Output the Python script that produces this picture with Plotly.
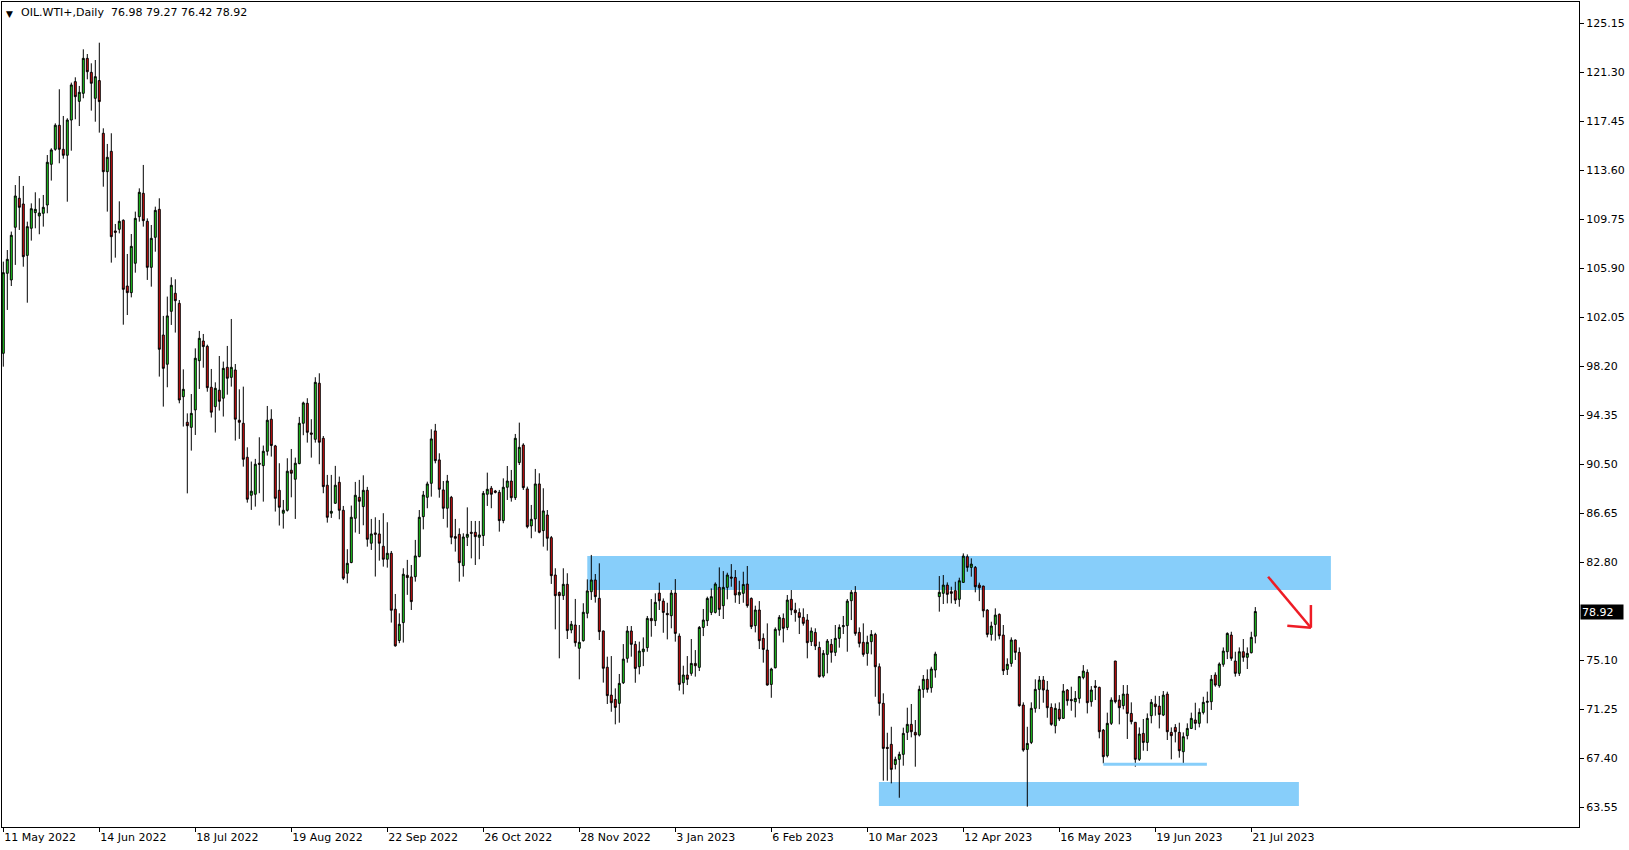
import plotly.graph_objects as go

# ---------------- data ----------------
OPEN = [99.22, 105.51, 104.99, 109.13, 111.41, 110.96, 106.92, 109.05, 110.28, 110.02,
        110.23, 110.88, 114.08, 115.26, 117.15, 115.26, 114.79, 117.56, 120.58, 119.03,
        119.66, 122.41, 121.31, 119.27, 120.66, 116.52, 113.50, 115.10, 108.84, 108.97,
        109.68, 104.51, 103.99, 106.30, 109.96, 111.80, 109.60, 105.98, 108.34, 110.54,
        100.66, 98.36, 102.52, 103.94, 103.15, 95.81, 93.80, 93.40, 94.77, 98.64,
        100.19, 99.77, 96.55, 95.03, 96.32, 95.69, 98.12, 97.33, 97.91, 93.96,
        93.72, 91.05, 88.06, 88.14, 90.58, 90.39, 91.52, 94.04, 91.94, 88.45,
        86.65, 86.88, 90.03, 89.32, 90.55, 93.72, 95.29, 92.96, 92.46, 96.87,
        92.54, 88.85, 86.65, 87.43, 89.08, 86.88, 81.93, 82.77, 86.25, 87.90,
        87.17, 88.45, 84.29, 85.10, 85.02, 84.05, 83.03, 83.50, 79.10, 76.64,
        78.05, 81.77, 81.64, 81.66, 83.24, 86.38, 87.90, 89.00, 93.12, 90.84,
        88.48, 87.04, 87.90, 84.81, 84.99, 82.53, 84.76, 85.15, 85.15, 84.76,
        84.89, 88.14, 88.61, 88.40, 88.29, 86.07, 88.69, 89.18, 87.87, 90.63,
        92.01, 88.56, 85.65, 86.20, 88.95, 85.28, 86.51, 84.73, 81.79, 80.41,
        80.17, 81.06, 77.47, 77.86, 76.03, 76.63, 78.78, 80.48, 81.40, 79.96,
        77.39, 74.54, 72.35, 72.01, 71.70, 73.32, 75.24, 77.39, 76.34, 74.58,
        75.76, 76.08, 78.38, 78.20, 80.37, 79.74, 78.77, 78.59, 80.37, 76.99,
        73.32, 73.93, 74.06, 74.84, 74.53, 77.67, 78.20, 78.85, 78.85, 80.82,
        79.38, 80.82, 81.63, 81.60, 80.22, 80.35, 81.08, 79.95, 77.81, 79.04,
        76.81, 75.89, 73.19, 74.50, 77.46, 78.38, 77.67, 79.88, 79.04, 78.83,
        78.46, 78.25, 76.55, 77.28, 76.10, 73.85, 75.55, 76.34, 75.71, 76.81,
        77.73, 77.81, 79.77, 80.43, 77.28, 76.50, 75.63, 76.55, 77.12, 74.58,
        71.70, 68.24, 68.48, 66.90, 67.30, 67.69, 69.42, 70.05, 69.42, 69.21,
        72.80, 73.59, 72.93, 74.32, 80.09, 80.35, 81.00, 80.48, 80.56, 79.88,
        81.21, 83.23, 82.39, 82.39, 81.00, 80.92, 79.04, 77.12, 77.91, 78.70,
        77.07, 74.37, 74.84, 76.68, 75.71, 71.57, 68.08, 68.63, 71.31, 72.80,
        73.53, 72.75, 71.38, 69.94, 71.23, 70.52, 72.75, 72.01, 71.83, 72.09,
        73.74, 74.14, 71.83, 73.06, 72.96, 69.60, 67.58, 70.13, 75.03, 71.96,
        71.52, 72.43, 70.91, 70.21, 67.30, 69.34, 68.63, 70.73, 71.65, 71.49,
        70.78, 72.43, 69.42, 69.81, 69.42, 67.90, 69.16, 69.73, 70.39, 70.13,
        70.99, 71.78, 71.83, 73.93, 73.09, 74.77, 75.76, 77.07, 75.03, 74.06,
        75.76, 75.32, 75.68, 76.98]

HIGH = [106.43, 107.34, 108.79, 112.45, 113.16, 112.38, 109.57, 111.01, 111.88, 111.41,
        111.67, 114.81, 115.34, 117.30, 119.98, 117.88, 117.70, 120.50, 120.92, 120.24,
        123.12, 122.75, 122.02, 122.28, 123.64, 116.91, 115.68, 116.52, 109.39, 111.17,
        109.75, 107.03, 108.60, 110.36, 112.19, 114.03, 109.83, 109.31, 110.75, 111.41,
        102.16, 103.68, 105.20, 105.04, 103.41, 97.96, 94.50, 96.02, 99.61, 100.98,
        100.74, 99.90, 97.99, 96.94, 99.01, 98.57, 99.80, 101.92, 98.38, 96.39,
        96.60, 91.83, 90.71, 90.92, 92.62, 91.97, 95.08, 94.82, 92.02, 90.58,
        87.69, 90.97, 91.70, 91.02, 94.22, 95.42, 95.69, 94.04, 97.34, 97.65,
        92.72, 89.66, 89.66, 90.37, 89.53, 87.22, 83.82, 87.25, 89.11, 89.27,
        89.63, 88.72, 86.20, 86.33, 86.12, 86.65, 85.94, 83.68, 80.30, 78.78,
        82.32, 82.98, 82.58, 84.55, 86.90, 88.40, 89.13, 93.25, 93.67, 91.36,
        89.18, 89.66, 88.01, 86.20, 85.46, 85.07, 87.11, 86.04, 86.04, 86.04,
        88.40, 89.84, 88.79, 88.48, 88.48, 89.39, 90.36, 90.05, 92.88, 93.77,
        92.15, 88.74, 87.30, 90.13, 89.79, 88.61, 86.90, 84.86, 82.32, 80.49,
        82.32, 81.93, 78.18, 79.91, 77.86, 79.57, 81.45, 83.37, 81.87, 82.71,
        77.42, 75.37, 75.42, 72.88, 74.01, 76.36, 77.78, 77.78, 76.60, 76.55,
        76.89, 78.57, 79.90, 80.35, 81.19, 79.95, 79.61, 80.61, 81.47, 77.20,
        74.66, 75.42, 76.76, 75.89, 77.78, 79.12, 80.09, 80.74, 81.21, 82.39,
        82.10, 81.97, 82.65, 82.18, 81.34, 82.05, 82.50, 80.03, 79.38, 79.74,
        77.20, 77.99, 74.50, 77.67, 78.64, 78.77, 80.22, 80.61, 79.61, 79.17,
        79.17, 78.72, 77.67, 77.60, 76.55, 75.89, 76.76, 76.76, 77.86, 77.91,
        78.57, 79.90, 80.61, 80.92, 77.67, 77.99, 77.02, 77.46, 77.25, 74.84,
        72.49, 69.39, 69.86, 67.51, 67.90, 69.79, 71.36, 71.65, 70.39, 73.09,
        73.93, 74.37, 74.58, 75.76, 81.71, 81.79, 81.21, 80.87, 81.26, 81.58,
        83.49, 83.41, 83.10, 82.50, 81.19, 80.95, 79.10, 78.12, 79.17, 78.77,
        77.86, 75.24, 76.89, 76.72, 76.10, 71.78, 69.86, 71.78, 73.59, 73.85,
        73.85, 73.46, 71.70, 71.70, 71.78, 73.22, 72.83, 73.01, 72.67, 73.85,
        74.71, 74.37, 73.06, 73.53, 73.01, 69.68, 70.97, 72.17, 75.03, 72.35,
        73.14, 73.14, 71.78, 70.21, 69.81, 70.47, 70.91, 72.04, 72.30, 72.28,
        72.67, 72.62, 69.81, 70.07, 70.18, 69.42, 70.13, 70.97, 71.75, 71.31,
        72.22, 72.62, 73.93, 74.14, 74.92, 76.10, 77.28, 77.33, 75.76, 76.10,
        76.76, 76.10, 77.33, 79.27]

LOW = [98.17, 102.63, 104.51, 106.17, 108.92, 106.03, 103.20, 108.08, 109.05, 108.58,
       109.18, 110.23, 112.80, 115.15, 114.16, 114.52, 111.14, 115.15, 117.62, 117.09,
       119.27, 120.76, 118.30, 117.43, 116.57, 112.32, 110.36, 106.35, 106.74, 108.65,
       101.47, 102.23, 103.62, 105.56, 109.57, 109.18, 104.99, 104.46, 107.21, 97.39,
       95.03, 96.55, 101.45, 100.85, 95.29, 93.46, 88.21, 91.57, 92.80, 96.42,
       98.09, 96.20, 94.17, 92.99, 94.72, 94.25, 95.97, 96.60, 92.36, 92.49,
       90.31, 87.48, 86.91, 87.17, 88.22, 87.56, 91.18, 91.10, 86.78, 85.68,
       85.44, 86.78, 87.90, 86.20, 90.50, 92.78, 92.20, 91.02, 92.20, 90.50,
       88.22, 85.91, 86.28, 87.38, 86.17, 81.40, 81.14, 82.72, 85.13, 85.02,
       85.70, 84.02, 83.76, 81.67, 82.92, 82.45, 82.37, 78.05, 76.16, 76.43,
       76.48, 80.23, 79.04, 81.27, 83.18, 85.38, 87.04, 87.95, 90.57, 87.87,
       86.20, 85.52, 84.21, 83.63, 81.27, 81.66, 84.07, 83.10, 82.58, 83.03,
       84.07, 87.22, 87.04, 88.21, 85.20, 85.86, 87.69, 87.56, 87.69, 90.44,
       88.48, 85.46, 84.68, 85.20, 85.07, 84.02, 83.71, 81.09, 77.52, 75.24,
       79.83, 76.76, 77.21, 76.16, 73.59, 76.55, 78.39, 79.83, 79.62, 76.68,
       73.33, 71.65, 71.04, 70.05, 70.18, 73.22, 74.90, 75.37, 73.32, 73.98,
       74.63, 75.76, 76.94, 77.78, 79.04, 77.25, 76.73, 77.60, 76.55, 72.70,
       72.41, 73.14, 73.87, 73.80, 74.24, 76.99, 77.78, 78.64, 78.77, 78.57,
       78.33, 79.88, 80.87, 79.61, 79.51, 79.61, 79.22, 77.54, 77.28, 75.97,
       74.90, 73.09, 72.14, 74.45, 77.02, 76.49, 77.46, 78.64, 78.12, 77.15,
       77.81, 75.24, 76.21, 75.89, 73.72, 73.72, 74.06, 74.90, 75.42, 76.08,
       77.15, 75.76, 78.25, 77.02, 76.10, 75.37, 74.66, 75.55, 72.22, 70.73,
       65.62, 65.62, 65.41, 66.51, 64.28, 66.80, 68.82, 69.03, 66.72, 69.10,
       72.14, 72.54, 72.54, 73.72, 78.91, 79.51, 79.56, 79.56, 79.51, 79.30,
       81.19, 82.05, 81.66, 80.43, 79.74, 78.46, 76.89, 76.63, 76.63, 76.73,
       73.93, 73.93, 74.58, 75.11, 71.44, 67.90, 63.58, 68.50, 70.97, 71.25,
       71.75, 70.57, 69.94, 69.34, 70.31, 70.47, 71.52, 71.12, 70.60, 71.70,
       73.59, 70.91, 71.44, 71.96, 68.95, 66.98, 67.45, 70.00, 71.70, 70.05,
       71.23, 68.90, 70.05, 66.72, 67.17, 67.98, 67.95, 70.13, 70.73, 69.73,
       70.70, 68.82, 67.30, 68.63, 67.43, 66.98, 68.87, 69.68, 69.60, 69.81,
       70.83, 70.13, 71.18, 73.01, 72.93, 74.58, 75.18, 75.05, 73.80, 73.85,
       74.97, 74.40, 75.63, 76.42]

CLOSE = [105.56, 106.61, 108.50, 111.59, 110.70, 106.82, 109.18, 110.59, 110.54, 110.25,
         110.70, 114.24, 115.21, 117.15, 115.26, 114.79, 117.56, 120.32, 119.40, 119.74,
         122.41, 121.36, 120.45, 120.97, 119.01, 113.50, 114.63, 108.39, 108.73, 109.60,
         104.25, 103.99, 107.63, 109.83, 111.88, 109.65, 105.98, 108.26, 110.46, 99.54,
         98.04, 102.16, 104.57, 103.36, 95.55, 96.39, 93.53, 94.50, 98.83, 100.40,
         99.75, 96.52, 94.59, 96.47, 95.45, 98.04, 97.26, 98.12, 94.04, 93.80,
         90.89, 87.75, 88.38, 90.50, 90.50, 91.52, 93.96, 91.97, 87.82, 87.12,
         86.88, 89.95, 89.79, 90.58, 93.72, 95.32, 93.01, 92.86, 96.94, 92.23,
         88.74, 86.33, 86.80, 88.85, 86.88, 81.54, 82.71, 86.33, 88.06, 87.59,
         88.45, 84.60, 85.02, 84.99, 84.29, 83.03, 83.50, 79.02, 76.22, 77.92,
         81.85, 81.59, 79.70, 83.29, 86.33, 88.08, 88.95, 92.49, 90.78, 88.53,
         87.04, 89.18, 84.76, 84.68, 82.76, 84.78, 84.99, 85.07, 84.81, 84.94,
         88.21, 88.53, 88.14, 88.29, 86.07, 88.69, 89.18, 87.87, 92.54, 91.83,
         88.66, 85.59, 86.17, 88.95, 85.15, 86.83, 84.68, 81.74, 80.17, 80.17,
         81.06, 77.42, 77.92, 76.47, 76.50, 78.86, 80.54, 81.40, 80.09, 77.34,
         74.46, 72.31, 71.75, 71.38, 73.27, 75.18, 77.39, 76.34, 74.45, 75.81,
         75.97, 78.38, 78.20, 79.64, 79.77, 78.85, 78.67, 80.37, 77.20, 73.19,
         73.93, 73.59, 74.84, 74.66, 77.67, 78.25, 79.95, 80.09, 81.08, 79.09,
         80.82, 81.79, 81.55, 80.22, 80.43, 81.05, 79.38, 77.73, 79.04, 76.63,
         75.94, 73.14, 74.40, 77.52, 78.46, 77.60, 79.82, 79.04, 78.83, 78.46,
         77.99, 76.47, 77.39, 76.21, 73.80, 75.63, 76.60, 75.71, 76.81, 77.67,
         77.81, 79.74, 80.43, 77.20, 76.42, 75.55, 76.50, 77.12, 74.58, 71.70,
         68.16, 68.16, 66.51, 67.30, 67.69, 69.34, 70.05, 69.47, 69.21, 72.80,
         73.59, 72.80, 74.40, 75.58, 80.43, 81.00, 80.27, 80.35, 79.82, 81.34,
         83.28, 82.39, 82.65, 80.87, 80.79, 78.98, 77.12, 77.78, 78.64, 77.02,
         74.27, 74.77, 76.68, 75.71, 71.52, 68.03, 68.55, 71.31, 72.80, 73.53,
         72.75, 71.36, 70.05, 71.31, 70.47, 72.67, 71.91, 71.91, 72.09, 73.80,
         74.24, 71.75, 72.75, 72.96, 69.47, 67.51, 70.13, 71.96, 71.83, 71.36,
         72.43, 70.91, 70.26, 67.30, 69.29, 68.63, 70.52, 71.78, 71.44, 70.83,
         72.35, 69.47, 69.16, 69.47, 67.98, 69.08, 69.73, 70.52, 70.13, 70.99,
         71.78, 71.86, 73.59, 73.14, 74.79, 75.81, 77.20, 75.24, 74.06, 75.76,
         75.32, 75.63, 76.89, 78.92]

DATE_TICK_BARS = [0, 24, 48, 72, 96, 120, 144, 168, 192, 216, 240, 264, 288, 312]
DATE_LABELS = ["11 May 2022", "14 Jun 2022", "18 Jul 2022", "19 Aug 2022", "22 Sep 2022",
               "26 Oct 2022", "28 Nov 2022", "3 Jan 2023", "6 Feb 2023", "10 Mar 2023",
               "12 Apr 2023", "16 May 2023", "19 Jun 2023", "21 Jul 2023"]
PRICE_TICKS = [63.55, 67.40, 71.25, 75.10, 82.80, 86.65, 90.50, 94.35, 98.20,
               102.05, 105.90, 109.75, 113.60, 117.45, 121.30, 125.15]

SYMBOL = "OIL.WTI+,Daily"
LAST_O, LAST_H, LAST_L, LAST_C = OPEN[-1], HIGH[-1], LOW[-1], CLOSE[-1]

# drawn zones (price levels / bar positions)
RES_ZONE = dict(x0=146.0, x1=331.9, y0=80.61, y1=83.29)
SUP_ZONE = dict(x0=218.9, x1=323.9, y0=63.63, y1=65.52)
LOW_LINE = dict(x0=275.0, x1=300.9, y=66.91)
ARROW = dict(x0=316.2, y0=81.66, x1=326.9, y1=77.65, hx=321.0, hy=77.81, vy=79.43)

ZONE_COLOR = "#87CEFA"
GREEN = "#22dd22"
RED = "#e01010"
ARROW_RED = "#ee1c25"
FONT = "DejaVu Sans"

X = list(range(len(OPEN)))

fig = go.Figure()
fig.add_trace(go.Candlestick(
    x=X, open=OPEN, high=HIGH, low=LOW, close=CLOSE,
    increasing=dict(line=dict(color="black", width=1), fillcolor=GREEN),
    decreasing=dict(line=dict(color="black", width=1), fillcolor=RED),
    whiskerwidth=0, showlegend=False, hoverinfo="skip",
))

shapes = [
    dict(type="rect", xref="x", yref="y", layer="below", line=dict(width=0),
         fillcolor=ZONE_COLOR, **RES_ZONE),
    dict(type="rect", xref="x", yref="y", layer="below", line=dict(width=0),
         fillcolor=ZONE_COLOR, **SUP_ZONE),
    dict(type="line", xref="x", yref="y", x0=LOW_LINE["x0"], x1=LOW_LINE["x1"],
         y0=LOW_LINE["y"], y1=LOW_LINE["y"], line=dict(color=ZONE_COLOR, width=3)),
    dict(type="line", xref="x", yref="y", x0=ARROW["x0"], y0=ARROW["y0"],
         x1=ARROW["x1"], y1=ARROW["y1"], line=dict(color=ARROW_RED, width=2.5)),
    dict(type="line", xref="x", yref="y", x0=ARROW["x1"], y0=ARROW["vy"],
         x1=ARROW["x1"], y1=ARROW["y1"], line=dict(color=ARROW_RED, width=2.5)),
    dict(type="line", xref="x", yref="y", x0=ARROW["hx"], y0=ARROW["hy"],
         x1=ARROW["x1"], y1=ARROW["y1"], line=dict(color=ARROW_RED, width=2.5)),
]

annotations = [
    dict(xref="paper", yref="paper", x=0, y=1, xanchor="left", yanchor="top",
         xshift=2, yshift=-5, showarrow=False, text="▼",
         font=dict(family=FONT, size=9, color="black")),
    dict(xref="paper", yref="paper", x=0, y=1, xanchor="left", yanchor="top",
         xshift=17, yshift=-2, showarrow=False,
         text=f"{SYMBOL}\u00a0\u00a0{LAST_O:.2f}\u00a0{LAST_H:.2f}\u00a0{LAST_L:.2f}\u00a0{LAST_C:.2f}",
         font=dict(family=FONT, size=11, color="black")),
    dict(xref="paper", yref="y", x=1, y=LAST_C, xanchor="left", yanchor="middle",
         xshift=1, showarrow=False, text=f"{LAST_C:.2f}", bgcolor="black",
         width=40, height=12, align="left", borderpad=1,
         font=dict(family=FONT, size=11, color="white")),
]

fig.update_layout(
    width=1629, height=850,
    margin=dict(l=2, r=50, t=2, b=23),
    paper_bgcolor="white", plot_bgcolor="white",
    font=dict(family=FONT, size=11, color="black"),
    showlegend=False, hovermode=False,
    shapes=shapes, annotations=annotations,
    xaxis=dict(
        range=[-0.325, 393.925], rangeslider=dict(visible=False),
        showgrid=False, zeroline=False,
        showline=True, linecolor="black", linewidth=1, mirror=True,
        tickmode="array", tickvals=DATE_TICK_BARS, ticktext=DATE_LABELS,
        ticks="outside", ticklen=4, tickcolor="black", tickwidth=1,
        ticklabelposition="outside right",
        tickfont=dict(family=FONT, size=11, color="black"),
    ),
    yaxis=dict(
        range=[61.98, 126.84], side="right",
        showgrid=False, zeroline=False,
        showline=True, linecolor="black", linewidth=1, mirror=True,
        tickmode="array", tickvals=PRICE_TICKS,
        ticktext=[f"{v:.2f}" for v in PRICE_TICKS],
        ticks="outside", ticklen=4, tickcolor="black", tickwidth=1,
        tickfont=dict(family=FONT, size=11, color="black"),
    ),
)

fig.write_html(
    "out.html",
    config=dict(displayModeBar=False),
    post_script="document.body.style.margin='0px';document.body.style.overflow='hidden';",
)
